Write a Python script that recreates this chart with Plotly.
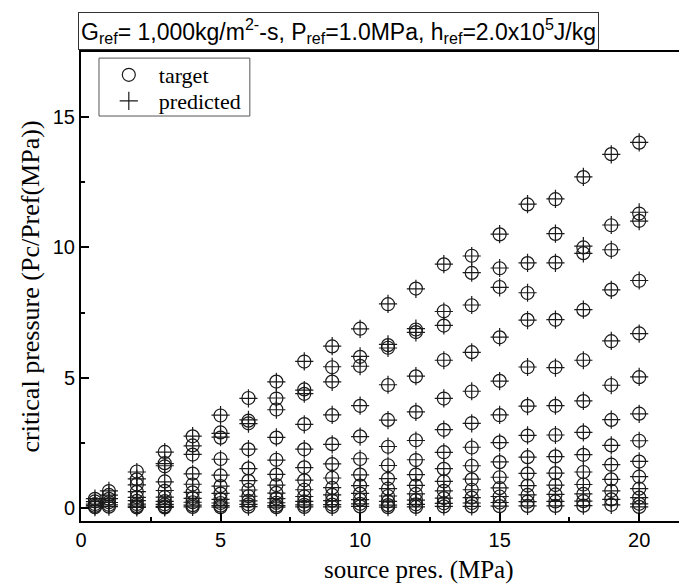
import plotly.graph_objects as go

source_pres = [0.5, 1, 2, 3, 4, 5, 6, 7, 8, 9, 10, 11, 12, 13, 14, 15, 16, 17, 18, 19, 20]

target = [
    [0.35, 0.25, 0.15, 0.08, 0.03],
    [0.65, 0.5, 0.35, 0.22, 0.12, 0.05],
    [1.4, 1.1, 0.9, 0.62, 0.42, 0.27, 0.15, 0.07, 0.02],
    [2.15, 1.72, 1.6, 1.02, 0.66, 0.42, 0.26, 0.14, 0.06, 0.02],
    [2.75, 2.4, 2.05, 1.32, 0.9, 0.6, 0.38, 0.22, 0.11, 0.04],
    [3.55, 2.9, 2.7, 1.88, 1.25, 0.84, 0.55, 0.34, 0.19, 0.09, 0.03],
    [4.22, 3.35, 3.25, 2.25, 1.52, 1.04, 0.7, 0.45, 0.27, 0.14, 0.05],
    [4.85, 4.2, 3.78, 2.7, 1.85, 1.28, 0.88, 0.58, 0.36, 0.2, 0.09, 0.03],
    [5.62, 4.55, 4.38, 3.22, 2.25, 1.56, 1.06, 0.7, 0.44, 0.25, 0.12, 0.04],
    [6.2, 5.4, 4.85, 3.56, 2.45, 1.68, 1.16, 0.77, 0.5, 0.28, 0.13, 0.04],
    [6.88, 5.8, 5.45, 3.92, 2.75, 1.88, 1.28, 0.86, 0.55, 0.32, 0.16, 0.06],
    [7.82, 6.25, 6.15, 4.72, 3.38, 2.35, 1.64, 1.12, 0.74, 0.46, 0.25, 0.11, 0.03],
    [8.42, 6.85, 6.75, 5.05, 3.68, 2.6, 1.84, 1.28, 0.86, 0.54, 0.3, 0.14, 0.04],
    [9.35, 7.55, 7.0, 5.68, 4.2, 3.0, 2.14, 1.5, 1.02, 0.66, 0.38, 0.18, 0.06],
    [9.68, 9.02, 7.78, 5.98, 4.47, 3.26, 2.32, 1.62, 1.1, 0.7, 0.4, 0.19, 0.06],
    [10.5, 9.2, 8.48, 6.55, 4.88, 3.56, 2.52, 1.76, 1.18, 0.76, 0.44, 0.21, 0.07],
    [11.65, 9.4, 8.25, 7.22, 5.4, 3.92, 2.78, 1.95, 1.32, 0.86, 0.5, 0.24, 0.08],
    [11.85, 10.52, 9.42, 7.22, 5.4, 3.92, 2.8, 1.98, 1.34, 0.88, 0.52, 0.25, 0.08],
    [12.7, 10.0, 9.78, 7.6, 5.68, 4.1, 2.9, 2.04, 1.38, 0.9, 0.54, 0.26, 0.09],
    [13.58, 10.85, 9.9, 8.38, 6.4, 4.72, 3.38, 2.4, 1.66, 1.1, 0.66, 0.33, 0.12],
    [14.02, 11.3, 11.02, 8.72, 6.7, 5.02, 3.62, 2.58, 1.78, 1.2, 0.74, 0.4, 0.16, 0.04],
]

predicted = [
    [0.36, 0.24, 0.15, 0.09, 0.03],
    [0.66, 0.49, 0.36, 0.21, 0.12, 0.05],
    [1.38, 1.12, 0.89, 0.63, 0.41, 0.28, 0.15, 0.07, 0.02],
    [2.14, 1.7, 1.62, 1.0, 0.67, 0.42, 0.25, 0.14, 0.06, 0.02],
    [2.76, 2.38, 2.06, 1.31, 0.91, 0.6, 0.37, 0.22, 0.11, 0.04],
    [3.56, 2.86, 2.72, 1.87, 1.26, 0.84, 0.56, 0.33, 0.19, 0.09, 0.03],
    [4.21, 3.38, 3.24, 2.26, 1.51, 1.05, 0.69, 0.45, 0.27, 0.14, 0.05],
    [4.84, 4.22, 3.77, 2.71, 1.84, 1.29, 0.88, 0.57, 0.36, 0.2, 0.09, 0.03],
    [5.63, 4.52, 4.39, 3.21, 2.26, 1.55, 1.07, 0.7, 0.44, 0.25, 0.12, 0.04],
    [6.21, 5.42, 4.84, 3.57, 2.44, 1.69, 1.15, 0.78, 0.5, 0.28, 0.13, 0.04],
    [6.87, 5.82, 5.44, 3.93, 2.74, 1.89, 1.27, 0.86, 0.56, 0.32, 0.16, 0.06],
    [7.83, 6.28, 6.14, 4.73, 3.37, 2.36, 1.63, 1.13, 0.74, 0.46, 0.25, 0.11, 0.03],
    [8.41, 6.88, 6.74, 5.06, 3.69, 2.59, 1.85, 1.28, 0.87, 0.54, 0.3, 0.14, 0.04],
    [9.36, 7.54, 7.01, 5.67, 4.21, 3.01, 2.13, 1.51, 1.02, 0.66, 0.38, 0.18, 0.06],
    [9.67, 9.03, 7.79, 5.97, 4.48, 3.25, 2.33, 1.62, 1.11, 0.7, 0.4, 0.19, 0.06],
    [10.51, 9.21, 8.47, 6.56, 4.87, 3.57, 2.51, 1.77, 1.18, 0.77, 0.44, 0.21, 0.07],
    [11.66, 9.41, 8.26, 7.21, 5.41, 3.91, 2.79, 1.95, 1.33, 0.86, 0.5, 0.24, 0.08],
    [11.86, 10.53, 9.41, 7.23, 5.39, 3.93, 2.8, 1.97, 1.34, 0.88, 0.52, 0.25, 0.08],
    [12.71, 10.05, 9.77, 7.61, 5.67, 4.11, 2.9, 2.05, 1.38, 0.9, 0.54, 0.26, 0.09],
    [13.57, 10.86, 9.91, 8.37, 6.41, 4.71, 3.39, 2.4, 1.66, 1.1, 0.66, 0.33, 0.12],
    [14.03, 11.35, 11.01, 8.73, 6.69, 5.03, 3.61, 2.58, 1.79, 1.2, 0.74, 0.4, 0.16, 0.04],
]

x_ticks = [0, 5, 10, 15, 20]
y_ticks = [0, 5, 10, 15]

def flatten(xs, groups):
    fx, fy = [], []
    for xv, g in zip(xs, groups):
        for v in g:
            fx.append(xv)
            fy.append(v)
    return fx, fy

tx, ty = flatten(source_pres, target)
px_, py_ = flatten(source_pres, predicted)

ink = "#1a1a1a"
fig = go.Figure()
fig.add_trace(go.Scatter(
    x=tx, y=ty, mode="markers", name="target", legend="legend",
    marker=dict(symbol="circle-open", size=13, color=ink, line=dict(width=1.2, color=ink)),
))
fig.add_trace(go.Scatter(
    x=px_, y=py_, mode="markers", name="predicted", legend="legend2",
    marker=dict(symbol="cross-thin-open", size=13, color=ink, line=dict(width=1.2, color=ink)),
))

sans = "Liberation Sans, Arial, sans-serif"
serif = "Liberation Serif, Times New Roman, serif"

leg_common = dict(
    xanchor="left", yanchor="middle", borderwidth=0, bgcolor="rgba(0,0,0,0)",
    font=dict(family=serif, size=22, color="black"), itemwidth=50,
)

fig.update_layout(
    width=687, height=588,
    margin=dict(l=73, r=0, t=44, b=75),
    paper_bgcolor="white", plot_bgcolor="white",
    showlegend=True,
    legend=dict(x=0.029, y=0.951, **leg_common),
    legend2=dict(x=0.029, y=0.8955, **leg_common),
    xaxis=dict(
        range=[0, 22], tickvals=x_ticks, ticktext=[str(v) for v in x_ticks],
        showline=True, linecolor="black", linewidth=2, mirror=True,
        ticks="inside", ticklen=8, tickwidth=1.5, tickcolor="black",
        minor=dict(ticks="inside", ticklen=4, tickwidth=1.5, tickcolor="black", tick0=0, dtick=2.5),
        showgrid=False, zeroline=False,
        tickfont=dict(family=sans, size=20, color="black"),
    ),
    yaxis=dict(
        range=[-0.5, 17.5], tickvals=y_ticks, ticktext=[str(v) for v in y_ticks],
        showline=True, linecolor="black", linewidth=2, mirror=False,
        ticks="inside", ticklen=8, tickwidth=1.5, tickcolor="black",
        minor=dict(ticks="inside", ticklen=4, tickwidth=1.5, tickcolor="black", tick0=0, dtick=2.5),
        showgrid=False, zeroline=False,
        tickfont=dict(family=sans, size=20, color="black"),
    ),
    shapes=[dict(
        type="rect", xref="paper", yref="paper",
        x0=0.0293, x1=0.275, y0=0.8635, y1=0.987,
        line=dict(color="#555", width=1), fillcolor="rgba(0,0,0,0)", layer="above",
    )],
    annotations=[
        dict(
            text="G<sub>ref</sub>= 1,000kg/m<sup>2-</sup>-s, P<sub>ref</sub>=1.0MPa, h<sub>ref</sub>=2.0x10<sup>5</sup>J/kg",
            xref="paper", yref="paper", x=-0.005, y=1.004, xanchor="left", yanchor="bottom",
            showarrow=False, font=dict(family=sans, size=23, color="black"),
            bordercolor="#333", borderwidth=1, borderpad=2, bgcolor="white",
        ),
        dict(
            text="source pres. (MPa)",
            xref="paper", yref="paper", x=0.55, y=-0.104, xanchor="center", yanchor="middle",
            showarrow=False, font=dict(family=serif, size=25, color="black"),
        ),
        dict(
            text="critical pressure (Pc/Pref(MPa))",
            xref="paper", yref="paper", x=-0.083, y=0.5, xanchor="center", yanchor="middle",
            textangle=-90, showarrow=False, font=dict(family=serif, size=26, color="black"),
        ),
    ],
)

fig.write_html("out.html")
